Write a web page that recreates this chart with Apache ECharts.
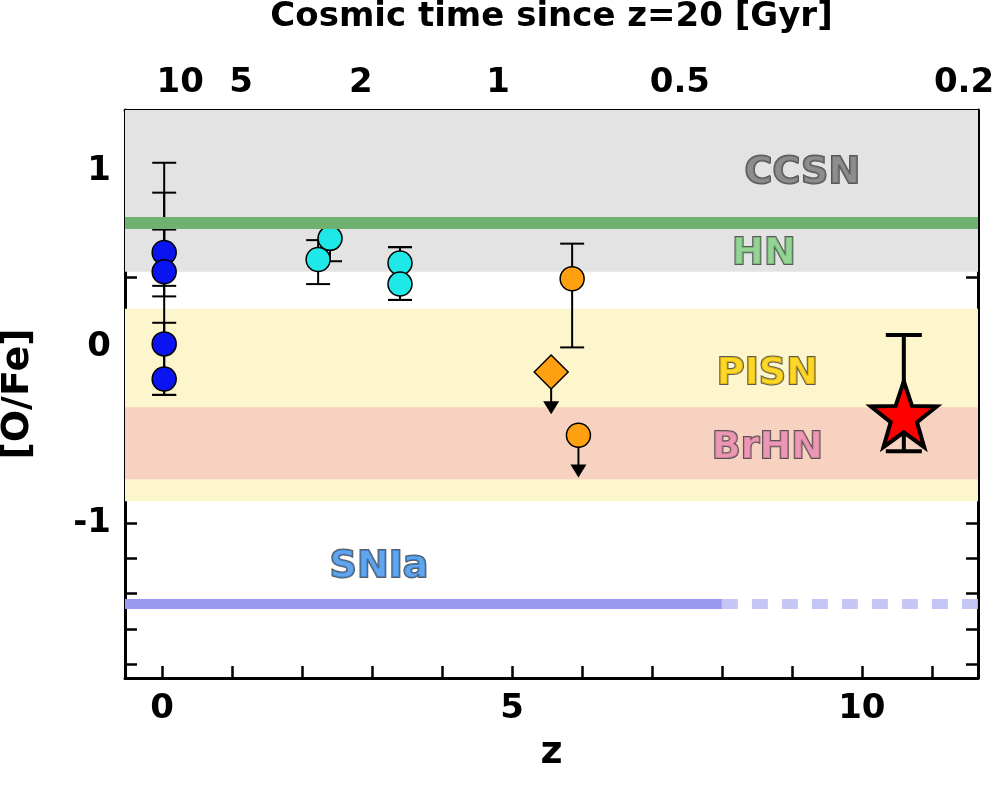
<!DOCTYPE html>
<html><head><meta charset="utf-8">
<script src="https://cdn.jsdelivr.net/npm/echarts@6/dist/echarts.min.js"></script>
<style>html,body{margin:0;background:#fff}#main{width:997px;height:789px}</style>
</head><body><div id="main"></div>
<script>
// [z, value, errLow, errHigh]
var bluePts = [[0.03, 0.54, 0.35, 1.05], [0.03, 0.43, 0.29, 0.88], [0.03, 0.02, -0.27, 0.67], [0.03, -0.18, -0.27, 0.14]];
var cyanPts = [[2.23, 0.50, 0.36, 0.61], [2.4, 0.62, 0.49, 0.72], [3.4, 0.48, 0.27, 0.57], [3.4, 0.36, 0.27, 0.57]];
var orangePts = [[5.86, 0.39, 0.0, 0.59]];
var limitCircle = [[5.95, -0.5]];
var limitDiamond = [[5.56, -0.14]];
var starPt = [[10.6, -0.38, -0.59, 0.07]];
var topTickZ = [0.26, 1.13, 2.84, 4.8, 7.4, 11.46];
var topTickLabels = ['10', '5', '2', '1', '0.5', '0.2'];
var bands = [
  {name: 'CCSN', y0: 0.43, y1: 1.35, color: '#e3e3e3'},
  {name: 'PISN', y0: -0.875, y1: 0.22, color: '#fdf5cc'},
  {name: 'BrHN', y0: -0.75, y1: -0.34, color: '#f7d2c0'}
];
var hnLevel = 0.71;
var sn1aLevel = -1.455;
var sn1aSolidEnd = 8;
var labels = [
  {t: 'CCSN', x: 9.15, y: 0.99, c: '#777777'},
  {t: 'HN', x: 8.6, y: 0.53, c: '#7fcf7f'},
  {t: 'PISN', x: 8.65, y: -0.15, c: '#ffd000'},
  {t: 'BrHN', x: 8.65, y: -0.57, c: '#e88ab0'},
  {t: 'SNIa', x: 3.1, y: -1.25, c: '#3a8ee8'}
];
var xMin = -0.53, xMax = 11.66, yMin = -1.88, yMax = 1.35;

function range(a, b, s) { var r = []; for (var v = a; v <= b + 1e-9; v += s) r.push(+v.toFixed(3)); return r; }
var yMinor = range(-1.8, 1.2, 0.2);
var xMinor = range(0, 11, 1);

function errSeries(pts, capW) {
  return {
    type: 'custom', z: 3, silent: true,
    renderItem: function (p, api) {
      var x = api.value(0), lo = api.coord([x, api.value(2)]), hi = api.coord([x, api.value(3)]);
      var w = capW;
      var st = {stroke: '#000', lineWidth: capW > 12 ? 4 : 2};
      return {type: 'group', children: [
        {type: 'line', shape: {x1: lo[0], y1: lo[1], x2: hi[0], y2: hi[1]}, style: st},
        {type: 'line', shape: {x1: lo[0] - w, y1: lo[1], x2: lo[0] + w, y2: lo[1]}, style: st},
        {type: 'line', shape: {x1: hi[0] - w, y1: hi[1], x2: hi[0] + w, y2: hi[1]}, style: st}
      ]};
    },
    encode: {x: 0, y: 1}, data: pts
  };
}
function limitSeries(pts) {
  return {
    type: 'custom', z: 3, silent: true,
    renderItem: function (p, api) {
      var a = api.coord([api.value(0), api.value(1)]);
      var b = api.coord([api.value(0), api.value(1) - 0.2]);
      return {type: 'group', children: [
        {type: 'line', shape: {x1: a[0], y1: a[1], x2: b[0], y2: b[1]}, style: {stroke: '#000', lineWidth: 2}},
        {type: 'polygon', shape: {points: [[b[0] - 8, b[1] - 6], [b[0] + 8, b[1] - 6], [b[0], b[1] + 7]]}, style: {fill: '#000'}}
      ]};
    },
    encode: {x: 0, y: 1}, data: pts
  };
}
function dots(pts, color, symbol, size, bw) {
  return {type: 'scatter', z: 4, symbol: symbol || 'circle', symbolSize: size || 24,
    itemStyle: {color: color, borderColor: '#000', borderWidth: bw || 1.5, opacity: 1}, data: pts.map(function (p) { return [p[0], p[1]]; })};
}

var tickFont = {fontFamily: 'DejaVu Sans', fontWeight: 'bold', fontSize: 34, color: '#000'};
var line3 = {onZero: false, lineStyle: {color: '#000', width: 3}};

var series = [
  {type: 'line', data: [], silent: true, z: 1,
    markArea: {silent: true, data: bands.map(function (b) {
      return [{yAxis: b.y0, xAxis: xMin, itemStyle: {color: b.color}}, {yAxis: b.y1, xAxis: xMax}];
    })},
    markLine: {silent: true, symbol: 'none', label: {show: false}, data: [
      [{coord: [xMin, hnLevel], lineStyle: {color: '#6fb26f', width: 12, type: 'solid'}}, {coord: [xMax, hnLevel]}],
      [{coord: [xMin, sn1aLevel], lineStyle: {color: '#9999f0', width: 10, type: 'solid'}}, {coord: [sn1aSolidEnd, sn1aLevel]}],
      [{coord: [sn1aSolidEnd, sn1aLevel], lineStyle: {color: '#c6c6f6', width: 10, type: [16, 14]}}, {coord: [xMax, sn1aLevel]}]
    ]}},
  errSeries(bluePts, 12), errSeries(cyanPts, 12), errSeries(orangePts, 12), errSeries(starPt, 18),
  limitSeries(limitCircle), limitSeries(limitDiamond),
  dots(bluePts, '#0a14f0'), dots(cyanPts, '#1fe8e8'), dots(orangePts, '#ffa010'),
  dots(limitCircle, '#ffa010'), dots(limitDiamond, '#ffa010', 'diamond', 34),
  dots(starPt, '#ff0000', 'path://M0,-10 L2.35,-3.24 L9.51,-3.09 L3.8,1.24 L5.88,8.09 L0,4 L-5.88,8.09 L-3.8,1.24 L-9.51,-3.09 L-2.35,-3.24 Z', 66, 4),
  {type: 'scatter', z: 5, symbolSize: 1, itemStyle: {color: 'rgba(0,0,0,0)'}, silent: true,
    labelLayout: {hideOverlap: false},
    data: labels.map(function (l) {
      return {value: [l.x, l.y], label: {show: true, position: 'inside', formatter: l.t,
        color: l.c, fontFamily: 'DejaVu Sans', fontWeight: 'bold', fontSize: 38, textBorderColor: '#333', textBorderWidth: 2}};
    })}
];

var option = {
  backgroundColor: '#fff', animation: false,
  grid: {left: 125, right: 19, top: 110, bottom: 111, outerBoundsMode: 'none', containLabel: false},
  xAxis: [
    {type: 'value', min: xMin, max: xMax, name: 'z', nameLocation: 'middle', nameGap: 56,
      nameTextStyle: {fontFamily: 'DejaVu Sans', fontWeight: 'bold', fontSize: 38},
      axisLine: line3, splitLine: {show: false},
      axisTick: {inside: true, length: 12, lineStyle: {width: 2.5}, customValues: xMinor},
      axisLabel: Object.assign({customValues: [0, 5, 10], margin: 14}, tickFont)},
    {type: 'value', position: 'top', min: xMin, max: xMax, name: 'Cosmic time since z=20 [Gyr]', nameLocation: 'middle', nameGap: 76,
      nameTextStyle: {fontFamily: 'DejaVu Sans', fontWeight: 'bold', fontSize: 34},
      axisLine: line3, splitLine: {show: false},
      axisTick: {inside: true, length: 22, lineStyle: {width: 2.5}, customValues: topTickZ},
      axisLabel: Object.assign({customValues: topTickZ, margin: 10, formatter: function (v) {
        var i = topTickZ.indexOf(v); return i >= 0 ? topTickLabels[i] : '';
      }}, tickFont)}
  ],
  yAxis: [
    {type: 'value', min: yMin, max: yMax, name: '[O/Fe]', nameLocation: 'middle', nameGap: 88,
      nameTextStyle: {fontFamily: 'DejaVu Sans', fontWeight: 'bold', fontSize: 38},
      axisLine: line3, splitLine: {show: false},
      axisTick: {inside: true, length: 12, lineStyle: {width: 2.5}, customValues: yMinor},
      axisLabel: Object.assign({customValues: [-1, 0, 1], margin: 14}, tickFont)},
    {type: 'value', position: 'right', min: yMin, max: yMax,
      axisLine: line3, splitLine: {show: false},
      axisTick: {inside: true, length: 12, lineStyle: {width: 2.5}, customValues: yMinor},
      axisLabel: {show: false}}
  ],
  series: series
};
var myChart = echarts.init(document.getElementById('main'));
myChart.setOption(option);
</script></body></html>
